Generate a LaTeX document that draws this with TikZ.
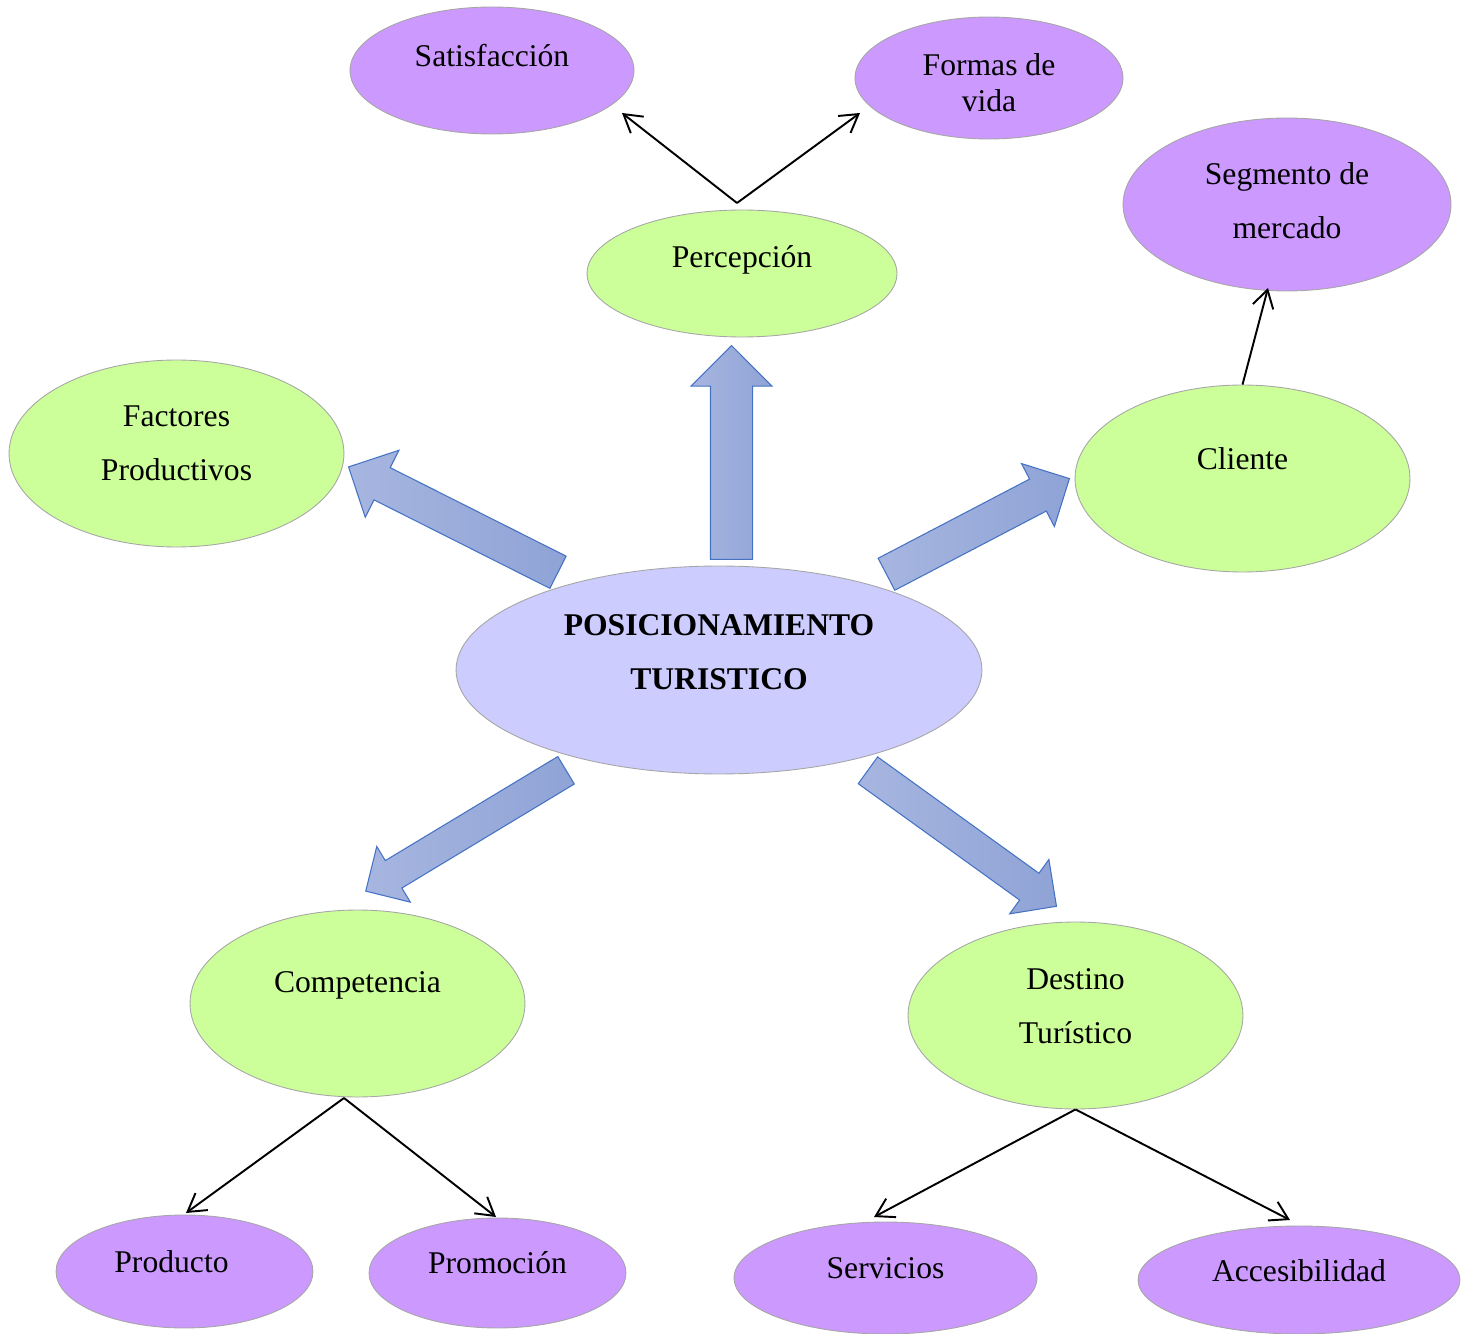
\documentclass[tikz,border=0pt]{standalone}
\usepackage{fontspec}
\setmainfont{Liberation Serif}
\usepackage{tikz}
\usetikzlibrary{shapes.geometric, shapes.arrows, arrows.meta}
\definecolor{leafpurple}{HTML}{CC99FF}
\definecolor{branchgreen}{HTML}{CCFF99}
\definecolor{corelav}{HTML}{CCCCFF}
\definecolor{rimgray}{HTML}{A6A6A6}
\definecolor{arrowline}{HTML}{4472C4}
\definecolor{arrowlight}{HTML}{A7B6E0}
\definecolor{arrowdark}{HTML}{8FA3D6}
\tikzset{
	->, % line connectors get arrow heads
	>={Straight Barb[length=3.5mm, width=4.2mm]}, % open barbed heads
	blob/.style={ellipse, draw=rimgray, line width=0.5pt, inner sep=0pt},
	leaf/.style={blob, fill=leafpurple},
	branch/.style={blob, fill=branchgreen},
	core/.style={blob, fill=corelav},
	txt/.style={align=center, font=\fontsize{18}{30.7}\selectfont},
	txtnarrow/.style={align=center, font=\fontsize{18}{20.5}\selectfont},
	blockarrow/.style={single arrow, anchor=tail, draw=arrowline, line width=0.6pt,
		left color=arrowlight, right color=arrowdark, minimum width=0pt,
		inner xsep=0pt, single arrow tip angle=90, -},
	link/.style={->, line width=1.1pt, black},
}
\begin{document}
\begin{tikzpicture}[x=0.02cm, y=-0.02cm]
	\useasboundingbox (0,0) rectangle (1471,1334);

	% Centre
	\node[core, minimum width=10.52cm, minimum height=4.16cm,
		label={[txt, yshift=0.36cm]center:\textbf{POSICIONAMIENTO}\\\textbf{TURISTICO}}] (pos) at (719,670) {};

	% First ring
	\node[branch, minimum width=6.2cm, minimum height=2.54cm,
		label={[txt, yshift=0.28cm]center:Percepción}] (perc) at (742,273.5) {};
	\node[branch, minimum width=6.7cm, minimum height=3.74cm,
		label={[txt, yshift=0.20cm]center:Factores\\Productivos}] (fact) at (176.5,453.5) {};
	\node[branch, minimum width=6.7cm, minimum height=3.74cm,
		label={[txt, yshift=0.40cm]center:Cliente}] (cli) at (1242.5,478.5) {};
	\node[branch, minimum width=6.7cm, minimum height=3.74cm,
		label={[txt, yshift=0.36cm]center:Competencia}] (comp) at (357.5,1003.5) {};
	\node[branch, minimum width=6.7cm, minimum height=3.74cm,
		label={[txt, yshift=0.18cm]center:Destino\\Turístico}] (dest) at (1075.5,1015.5) {};

	% Outer ring
	\node[leaf, minimum width=5.68cm, minimum height=2.54cm,
		label={[txt, yshift=0.30cm]center:Satisfacción}] (sat) at (492,70.5) {};
	\node[leaf, minimum width=5.36cm, minimum height=2.44cm,
		label={[txtnarrow, yshift=-0.10cm]center:Formas de\\vida}] (forms) at (989,78) {};
	\node[leaf, minimum width=6.56cm, minimum height=3.46cm,
		label={[txt, yshift=0.08cm]center:Segmento de\\mercado}] (seg) at (1287,204.5) {};
	\node[leaf, minimum width=5.14cm, minimum height=2.26cm,
		label={[txt, xshift=-0.26cm, yshift=0.20cm]center:Producto}] (prod) at (184.5,1271.5) {};
	\node[leaf, minimum width=5.14cm, minimum height=2.2cm,
		label={[txt, yshift=0.20cm]center:Promoción}] (prom) at (497.5,1273) {};
	\node[leaf, minimum width=6.06cm, minimum height=2.24cm,
		label={[txt, yshift=0.20cm]center:Servicios}] (serv) at (885.5,1278) {};
	\node[leaf, minimum width=6.44cm, minimum height=2.16cm,
		label={[txt, yshift=0.18cm]center:Accesibilidad}] (acc) at (1299,1280) {};

	% Block arrows out of the centre
	\node[blockarrow, rotate=90, minimum height=4.28cm, inner ysep=0.41cm,
		single arrow head extend=0.39cm] (arrPerc) at (731.5,560) {};
	\node[blockarrow, rotate=153.3, minimum height=4.69cm, inner ysep=0.35cm,
		single arrow head extend=0.39cm] (arrFact) at (558.5,572.5) {};
	\node[blockarrow, rotate=27.6, minimum height=4.13cm, inner ysep=0.35cm,
		single arrow head extend=0.35cm] (arrCli) at (886,574.5) {};
	\node[blockarrow, rotate=211.1, minimum height=4.68cm, inner ysep=0.31cm,
		single arrow head extend=0.33cm] (arrComp) at (566.5,770) {};
	\node[blockarrow, rotate=-35.8, minimum height=4.65cm, inner ysep=0.32cm,
		single arrow head extend=0.34cm] (arrDest) at (867.5,770) {};

	% Connector end points
	\coordinate (percTop) at (737,203);
	\coordinate (satEnd) at (622,113);
	\coordinate (formsEnd) at (860,113);
	\coordinate (segEnd) at (1268,288);
	\coordinate (compBot) at (344,1098);
	\coordinate (prodEnd) at (186,1213);
	\coordinate (promEnd) at (496,1217);
	\coordinate (servEnd) at (874,1217);
	\coordinate (accEnd) at (1290,1220);

	% Transitions
	\draw[link] (percTop) -- (satEnd);
	\draw[link] (percTop) -- (formsEnd);
	\draw[link] (cli.north) -- (segEnd);
	\draw[link] (compBot) -- (prodEnd);
	\draw[link] (compBot) -- (promEnd);
	\draw[link] (dest.south) -- (servEnd);
	\draw[link] (dest.south) -- (accEnd);
\end{tikzpicture}
\end{document}
